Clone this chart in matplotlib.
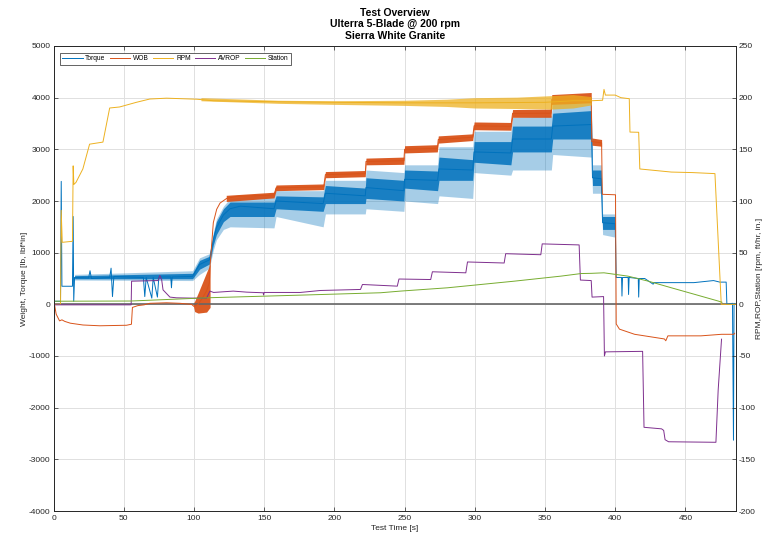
"""
Test overview plot: torque / WOB on the left axis, RPM / AVROP / station on the right.
Values read off the reference chart (noisy traces given as core/fringe envelopes).
"""

import numpy as np
import matplotlib
matplotlib.use("Agg")
import matplotlib.pyplot as plt

plt.rcParams["font.family"] = ["Liberation Sans", "DejaVu Sans"]
plt.rcParams["axes.unicode_minus"] = False

# ─────────────────────────────────────────────────────────────────────────────
# Data (time [s], value)
# ─────────────────────────────────────────────────────────────────────────────

TITLE = "Test Overview\nUlterra 5-Blade @ 200 rpm\nSierra White Granite"

# left axis: lbf*in
TORQUE_PTS = [
    (0, -3450), (0.4, 60), (5.0, 60), (5.5, 2380), (6.0, 350), (13.5, 350),
    (14.0, 1700), (14.4, 60), (15.0, 520), (25.0, 510), (26.0, 650), (27.0, 500),
    (40.0, 520), (41.0, 700), (42.0, 150), (43.0, 540), (64.0, 520), (65.0, 150),
    (66.0, 520), (70.0, 120), (71.0, 520), (74.0, 140), (75.0, 530), (83.5, 530),
    (84.0, 320), (84.5, 530), (99.0, 540), (104.0, 770), (111.0, 860),
    (113.8, 1250), (116.0, 1480), (121.0, 1730), (125.7, 1850), (133.0, 1900),
    (157.0, 1850), (158.5, 2000), (192.0, 1950), (193.6, 2150), (222.0, 2100),
    (222.5, 2260), (249.5, 2200), (250.0, 2420), (273.5, 2400), (274.5, 2620),
    (298.5, 2600), (299.5, 2950), (325.7, 2930), (326.9, 3200), (354.5, 3200),
    (355.5, 3450), (383.0, 3480), (383.8, 2450), (390.0, 2430), (391.0, 1580),
    (400.0, 1560), (400.7, 520), (404.5, 520), (404.8, 160), (405.2, 520),
    (409.2, 520), (409.5, 190), (409.9, 520), (416.4, 500), (416.7, 140),
    (417.1, 500), (421.0, 500), (427.0, 390), (427.6, 420), (456.0, 420),
    (470.0, 460), (474.5, 430), (479.0, 430), (479.5, 0), (483.5, 20),
    (484.2, -2630), (484.6, 20), (485.5, 0),
]
# (t, core_lo, core_hi, fringe_lo, fringe_hi)
TORQUE_BAND = [
    (15.0, 495, 555, 470, 580), (99.0, 495, 600, 460, 650),
    (104.0, 680, 850, 580, 900),
    (111.0, 780, 930, 700, 980), (113.8, 1150, 1350, 1050, 1400),
    (116.0, 1350, 1600, 1250, 1650), (121.0, 1600, 1850, 1450, 1900),
    (125.7, 1700, 1980, 1500, 2050), (157.0, 1700, 1980, 1480, 2150),
    (158.5, 1850, 2100, 1700, 2200), (192.0, 1800, 2080, 1500, 2200),
    (193.6, 1950, 2300, 1750, 2400), (222.0, 1950, 2250, 1750, 2400),
    (222.5, 2050, 2450, 1850, 2600), (249.5, 2000, 2400, 1800, 2550),
    (250.0, 2250, 2600, 2000, 2700), (273.5, 2200, 2580, 1950, 2700),
    (274.5, 2400, 2850, 2100, 3050), (298.5, 2400, 2800, 2050, 3050),
    (299.5, 2750, 3150, 2550, 3350), (325.7, 2700, 3150, 2500, 3350),
    (326.9, 2950, 3450, 2600, 3620), (354.5, 2950, 3450, 2600, 3650),
    (355.5, 3200, 3700, 2900, 3880), (383.0, 3200, 3750, 2850, 3900),
    (383.8, 2300, 2600, 2150, 2700), (390.0, 2300, 2600, 2150, 2700),
    (391.0, 1450, 1700, 1350, 1750), (400.0, 1450, 1700, 1300, 1750),
]

# left axis: lb
WOB_PTS = [
    (0, 0), (0.7, 0), (1.9, -190), (4.3, -320), (6.0, -300), (8.0, -330),
    (12.0, -365), (21.0, -400), (33.0, -415), (52.0, -405), (55.5, -385),
    (56.2, -60), (60.0, -25), (64.5, -10), (68.6, 20), (80.5, 30), (90.0, 20),
    (98.3, 0), (100.0, -40), (103.0, 0), (106.0, 120), (109.0, 260),
    (111.0, 420), (111.5, 750), (113.8, 1580), (116.2, 1840), (118.6, 1960),
    (123.3, 2050), (130.5, 2090), (157.0, 2115), (158.5, 2255), (192.4, 2275),
    (193.6, 2510), (222.0, 2530), (222.5, 2765), (249.5, 2780), (250.0, 3000),
    (273.3, 3020), (274.0, 3190), (298.5, 3235), (299.5, 3455), (325.7, 3445),
    (326.9, 3695), (354.3, 3700), (354.8, 3965), (382.9, 4000), (383.3, 3150),
    (390.3, 3125), (390.8, 2130), (400.2, 2120), (400.7, -380), (403.0, -480),
    (413.8, -580), (435.0, -670), (436.0, -705), (437.5, -610), (461.0, -610),
    (475.7, -580), (484.5, -580), (485.0, -560),
]
# (t, lo, hi) oscillation wedge while the bit is tagging bottom
WOB_WEDGE = [
    (99.5, -20, 20), (100.5, -140, 60), (103.0, -170, 220), (106.0, -160, 420),
    (109.0, -150, 620), (111.5, -60, 780),
]
WOB_BAND = [
    (123.0, 1990, 2110), (157.0, 2060, 2170), (158.5, 2200, 2310),
    (192.4, 2220, 2330), (193.6, 2450, 2570), (222.0, 2470, 2590),
    (222.5, 2700, 2830), (249.5, 2710, 2850), (250.0, 2930, 3070),
    (273.3, 2950, 3090), (274.0, 3120, 3260), (298.5, 3170, 3300),
    (299.5, 3380, 3530), (325.7, 3370, 3520), (326.9, 3620, 3770),
    (354.3, 3620, 3780), (354.8, 3870, 4060), (382.9, 3900, 4100),
    (383.3, 3080, 3220), (390.3, 3060, 3190),
]

# right axis: rpm
RPM_PTS = [
    (0, 0), (5.0, 0), (5.5, 91), (6.2, 60), (13.5, 61), (14.0, 134),
    (14.5, 116), (16.0, 118), (20.9, 131), (25.7, 155), (35.2, 157),
    (40.0, 190), (47.1, 191), (59.0, 195.5), (68.6, 198.7), (80.5, 199.5),
    (102.0, 198.5), (114.0, 197), (161.0, 196), (247.0, 195), (300.0, 195),
    (350.0, 195.5), (370.0, 197), (383.0, 197), (391.0, 197.5), (392.0, 208),
    (393.0, 202.5), (400.0, 202.5), (404.0, 200), (410.0, 199),
    (410.5, 166.7), (416.7, 166.5), (417.5, 131), (425.0, 130), (440.0, 128),
    (455.0, 127.5), (471.0, 126.5), (475.5, 0), (486.0, 0),
]
RPM_BAND = [
    (105.0, 197, 200), (160.0, 194.5, 197.5), (200.0, 193.5, 197),
    (250.0, 192.5, 197.5), (280.0, 191.5, 198.5), (300.0, 190, 200),
    (330.0, 189.5, 200.5), (355.0, 189, 202), (370.0, 190, 203),
    (383.0, 193, 201),
]

# right axis: ft/hr
AVROP_PTS = [
    (0, -0.5), (55.3, -0.5), (55.6, 22.4), (74.5, 23), (75.7, 28), (77.0, 24),
    (78.0, 14), (82.9, 7), (87.6, 6.3), (99.5, 6), (109.0, 6), (111.4, 12.8),
    (114.0, 11.5), (128.0, 12.8), (137.6, 11.8), (149.3, 11.2), (149.6, 9),
    (150.0, 11.5), (175.7, 11.5), (190.0, 13.4), (218.6, 14.4), (220.0, 19.2),
    (244.8, 17.6), (246.0, 24.5), (268.6, 24), (269.8, 31.5), (293.6, 30.5),
    (294.8, 41), (320.9, 40), (322.0, 49), (347.0, 48), (348.0, 58.5),
    (374.3, 57.5), (375.2, 23.5), (382.9, 23), (383.5, 7), (391.7, 7.5),
    (392.3, -50), (393.0, -46), (419.5, -45.5), (420.5, -119), (433.0, -120.5),
    (434.5, -122), (435.5, -131), (438.0, -133), (471.7, -133.5),
    (473.3, -83), (475.7, -33.7),
]

# right axis: in.
STATION_PTS = [
    (0, 3), (55.0, 3.2), (111.0, 6.4), (175.7, 8.9), (232.9, 11.2),
    (247.0, 12.8), (280.5, 16), (328.0, 22.4), (361.4, 27.3), (375.7, 29.8),
    (383.0, 30), (392.0, 30.5), (409.0, 27.3), (423.3, 22.5), (440.0, 16),
    (456.7, 9.6), (473.3, 3.2), (476.0, 2),
]

# MATLAB default line colours
C_TORQUE  = "#0072BD"
C_WOB     = "#D95319"
C_RPM     = "#EDB120"
C_AVROP   = "#7E2F8E"
C_STATION = "#77AC30"
GRID_C    = "#e0e0e0"
AXIS_C    = "#262626"

# ─────────────────────────────────────────────────────────────────────────────
# Plot
# ─────────────────────────────────────────────────────────────────────────────

fig = plt.figure(figsize=(7.67, 5.33), dpi=100)
ax = fig.add_axes([53.5 / 767, 22 / 533, 682.5 / 767, 465 / 533])
ax2 = ax.twinx()

LW = 0.7

# left axis traces
t, v = np.array(TORQUE_PTS).T
tb, clo, chi, flo, fhi = np.array(TORQUE_BAND).T
ax.fill_between(tb, flo, fhi, color=C_TORQUE, alpha=0.35, lw=0)
ax.fill_between(tb, clo, chi, color=C_TORQUE, alpha=0.85, lw=0)
h_torque, = ax.plot(t, v, color=C_TORQUE, lw=LW, label="Torque")

t, v = np.array(WOB_PTS).T
tb, lo, hi = np.array(WOB_WEDGE).T
ax.fill_between(tb, lo, hi, color=C_WOB, alpha=0.95, lw=0)
tb, lo, hi = np.array(WOB_BAND).T
ax.fill_between(tb, lo, hi, color=C_WOB, alpha=0.95, lw=0)
h_wob, = ax.plot(t, v, color=C_WOB, lw=LW, label="WOB")

ax.axhline(0, color="0.4", lw=1.2, zorder=1)

# right axis traces
t, v = np.array(RPM_PTS).T
tb, lo, hi = np.array(RPM_BAND).T
ax2.fill_between(tb, lo, hi, color=C_RPM, alpha=0.75, lw=0)
h_rpm, = ax2.plot(t, v, color=C_RPM, lw=LW, label="RPM")

t, v = np.array(AVROP_PTS).T
h_avrop, = ax2.plot(t, v, color=C_AVROP, lw=LW, label="AVROP")

t, v = np.array(STATION_PTS).T
h_station, = ax2.plot(t, v, color=C_STATION, lw=LW, label="Station")

# axes
ax.set_xlim(0, 486)
ax.set_ylim(-4000, 5000)
ax2.set_ylim(-200, 250)
ax.set_xticks(np.arange(0, 451, 50))
ax.set_yticks(np.arange(-4000, 5001, 1000))
ax2.set_yticks(np.arange(-200, 251, 50))

ax.grid(True, color=GRID_C, lw=0.7)
ax.set_axisbelow(True)

for a in (ax, ax2):
    for s in a.spines.values():
        s.set_color(AXIS_C)
        s.set_linewidth(0.6)
    a.tick_params(direction="in", length=3, width=0.5, labelsize=6,
                  colors=AXIS_C, pad=2)
ax.tick_params(axis="x", top=True, pad=3)

ax.set_xlabel("Test Time [s]", fontsize=6, color=AXIS_C, labelpad=2)
ax.set_ylabel("Weight, Torque [lb, lbf*in]", fontsize=6, color=AXIS_C, labelpad=1)
ax2.set_ylabel("RPM,ROP,Station [rpm, ft/hr, in.]", fontsize=6, color=AXIS_C, labelpad=0.5)
ax.set_title(TITLE, fontsize=7.5, fontweight="bold", color="black", pad=5)

leg = ax2.legend(handles=[h_torque, h_wob, h_rpm, h_avrop, h_station],
                 loc="upper left", bbox_to_anchor=(0.009, 0.985), borderaxespad=0,
                 ncol=5, fontsize=4.8, handlelength=3.1, handletextpad=0.4,
                 columnspacing=0.6, borderpad=0.35, fancybox=False, framealpha=1)
leg.get_frame().set_edgecolor(AXIS_C)
leg.get_frame().set_linewidth(0.5)

fig.savefig("out.png", dpi=100)
plt.close(fig)
